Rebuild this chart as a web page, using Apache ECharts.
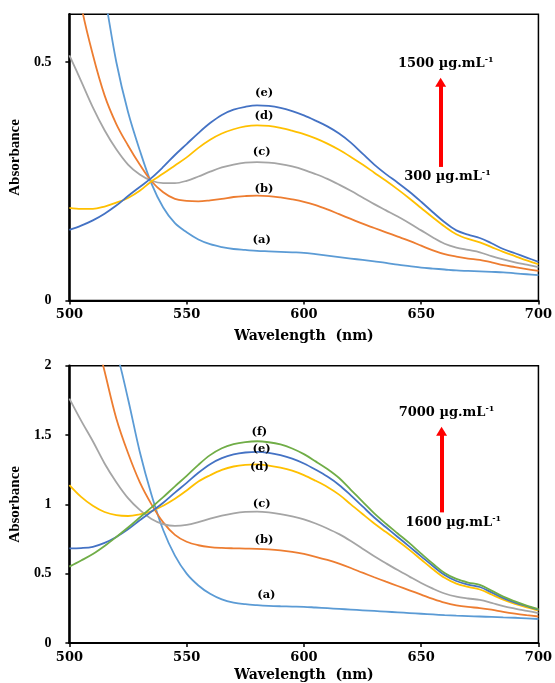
<!DOCTYPE html>
<html>
<head>
<meta charset="utf-8">
<script src="https://cdn.jsdelivr.net/npm/echarts@6/dist/echarts.min.js"></script>
<style>html,body{margin:0;padding:0;background:#fff;}#c{width:555px;height:683px;}</style>
</head>
<body>
<div id="c"></div>
<script>
// ---------- DATA ----------
const wavelengths = [500,505,510,515,520,525,530,535,540,545,550,555,560,565,570,575,580,585,590,595,600,605,610,615,620,625,630,635,640,645,650,655,660,665,670,675,680,685,690,695,700];

// Top panel (300 - 1500 µg/mL)
const topA = [1.0,0.88,0.76,0.64,0.5,0.395,0.315,0.245,0.195,0.162,0.143,0.128,0.118,0.112,0.108,0.106,0.104,0.103,0.102,0.101,0.1,0.097,0.094,0.091,0.088,0.085,0.082,0.079,0.075,0.072,0.069,0.067,0.065,0.063,0.062,0.061,0.06,0.059,0.057,0.055,0.053];
const topB = [0.78,0.62,0.515,0.43,0.37,0.325,0.285,0.25,0.227,0.213,0.209,0.208,0.21,0.213,0.217,0.219,0.22,0.219,0.216,0.212,0.207,0.2,0.191,0.181,0.171,0.161,0.152,0.143,0.134,0.125,0.115,0.105,0.097,0.092,0.088,0.085,0.08,0.074,0.07,0.066,0.062];
const topC = [0.514,0.46,0.405,0.357,0.317,0.285,0.264,0.251,0.246,0.246,0.251,0.26,0.27,0.279,0.285,0.289,0.29,0.289,0.286,0.281,0.274,0.265,0.255,0.243,0.23,0.216,0.202,0.189,0.176,0.162,0.147,0.132,0.119,0.111,0.106,0.101,0.093,0.086,0.08,0.075,0.07];
const topD = [0.194,0.192,0.192,0.197,0.205,0.215,0.23,0.25,0.266,0.283,0.3,0.32,0.337,0.35,0.359,0.365,0.367,0.366,0.362,0.356,0.349,0.34,0.329,0.316,0.301,0.285,0.268,0.251,0.233,0.214,0.194,0.174,0.155,0.139,0.129,0.122,0.112,0.102,0.093,0.084,0.076];
const topE = [0.148,0.157,0.168,0.182,0.199,0.219,0.238,0.257,0.28,0.305,0.328,0.351,0.372,0.389,0.4,0.406,0.409,0.408,0.404,0.397,0.388,0.377,0.365,0.35,0.331,0.308,0.285,0.265,0.247,0.228,0.207,0.185,0.164,0.147,0.138,0.131,0.12,0.108,0.099,0.09,0.081];

// Bottom panel (1600 - 7000 µg/mL)
const botA = [3.5,3.0,2.6,2.3,2.1,1.76,1.38,1.07,0.815,0.63,0.5,0.415,0.355,0.315,0.292,0.28,0.273,0.268,0.265,0.263,0.261,0.256,0.251,0.246,0.241,0.236,0.231,0.226,0.221,0.216,0.211,0.206,0.201,0.197,0.194,0.191,0.188,0.185,0.182,0.178,0.173];
const botB = [3.2,2.7,2.3,1.96,1.62,1.37,1.16,1.0,0.87,0.78,0.73,0.705,0.692,0.686,0.683,0.681,0.679,0.675,0.668,0.657,0.642,0.622,0.599,0.572,0.541,0.507,0.474,0.442,0.411,0.38,0.349,0.318,0.291,0.272,0.26,0.252,0.24,0.225,0.212,0.201,0.191];
const botC = [1.763,1.604,1.455,1.295,1.16,1.045,0.96,0.895,0.858,0.845,0.852,0.872,0.897,0.918,0.935,0.945,0.947,0.942,0.93,0.913,0.892,0.862,0.826,0.785,0.735,0.68,0.625,0.575,0.526,0.479,0.433,0.392,0.357,0.334,0.321,0.311,0.29,0.266,0.248,0.232,0.216];
const botD = [1.139,1.054,0.99,0.945,0.922,0.916,0.928,0.95,0.99,1.04,1.1,1.165,1.21,1.248,1.273,1.285,1.288,1.28,1.265,1.243,1.211,1.17,1.125,1.07,1.0,0.93,0.862,0.8,0.738,0.672,0.602,0.532,0.47,0.428,0.405,0.386,0.35,0.312,0.282,0.257,0.235];
const botE = [0.683,0.685,0.694,0.722,0.765,0.82,0.885,0.948,1.012,1.085,1.155,1.228,1.29,1.333,1.36,1.374,1.379,1.372,1.355,1.33,1.295,1.25,1.2,1.14,1.065,0.985,0.905,0.835,0.765,0.695,0.625,0.555,0.49,0.447,0.421,0.404,0.365,0.324,0.291,0.265,0.24];
const botF = [0.551,0.595,0.642,0.7,0.765,0.833,0.905,0.978,1.052,1.13,1.205,1.285,1.355,1.405,1.434,1.449,1.455,1.448,1.432,1.403,1.362,1.31,1.255,1.19,1.105,1.02,0.935,0.86,0.79,0.72,0.645,0.572,0.505,0.462,0.436,0.419,0.378,0.334,0.3,0.27,0.245];

const curveNames = ['(a)','(b)','(c)','(d)','(e)','(f)'];
const xTicks = [500,550,600,650,700];
const topLabelText = ['1500 µg.mL', '300 µg.mL'];
const botLabelText = ['7000 µg.mL', '1600 µg.mL'];
const supText = '-1';

// label anchors (data coords)
const topCurveLabelPos = [[582,0.127],[583,0.233],[582,0.312],[583,0.386],[583,0.434]];
const botCurveLabelPos = [[584,0.347],[583,0.743],[582,1.002],[581,1.27],[582,1.398],[581,1.522]];
const topNotePos = [[660.5,0.497],[661.2,0.259]];
const botNotePos = [[660.8,1.659],[663.7,0.868]];
const topArrow = [[658.3,0.28],[658.3,0.4575]];
const botArrow = [[658.7,0.942],[658.7,1.527]];

// ---------- STYLE ----------
const colors = ['#5B9BD5','#ED7D31','#A5A5A5','#FFC000','#4472C4','#70AD47'];
const SERIF = '"Liberation Serif","Times New Roman",serif';
const WIDE = '"DejaVu Serif","Liberation Serif",serif';

function pairs(vals){ return wavelengths.map((w,i)=>[w, vals[i]]); }

function curveSeries(vals, idx, gi, labelPos){
  return {
    type:'line', xAxisIndex:gi, yAxisIndex:gi, data:pairs(vals),
    smooth:0.35, showSymbol:false, symbol:'none', clip:true,
    lineStyle:{color:colors[idx], width:1.8}, itemStyle:{color:colors[idx]},
    markPoint:{
      symbol:'circle', symbolSize:0, silent:true, animation:false,
      label:{show:true, position:'inside', formatter:curveNames[idx], fontFamily:WIDE, fontWeight:'bold', fontSize:11.5, color:'#000'},
      data:[{coord:labelPos[idx]}]
    }
  };
}

function noteSeries(gi, notes, notePos, arrow){
  return {
    type:'line', xAxisIndex:gi, yAxisIndex:gi, data:[], silent:true,
    markPoint:{
      symbol:'circle', symbolSize:0, silent:true, animation:false,
      label:{show:true, position:'inside', fontFamily:WIDE, fontWeight:'bold', fontSize:13, color:'#000',
        formatter: p => '{m|' + p.name + '}{s|' + supText + '}',
        rich:{ m:{fontFamily:WIDE, fontWeight:'bold', fontSize:13, color:'#000', lineHeight:16},
               s:{fontFamily:WIDE, fontWeight:'bold', fontSize:8, color:'#000', verticalAlign:'top', lineHeight:16} } },
      data: notes.map((t,i)=>({name:t, coord:notePos[i]}))
    },
    markLine:{
      silent:true, animation:false, symbol:['none','triangle'], symbolSize:[11,9],
      label:{show:false},
      lineStyle:{color:'#FF0000', width:4, type:'solid'},
      data:[[{coord:arrow[0]},{coord:arrow[1]}]]
    }
  };
}

function xAxisCfg(gi, gap){
  return {
    gridIndex:gi, type:'value', min:500, max:700, interval:50,
    name:'Wavelength  (nm)', nameLocation:'middle', nameGap:gap,
    nameTextStyle:{fontFamily:WIDE, fontWeight:'bold', fontSize:14, color:'#000'},
    axisLine:{show:true, onZero:false, lineStyle:{color:'#000', width:2}},
    axisTick:{show:true, length:4, lineStyle:{color:'#000', width:1.5}},
    axisLabel:{fontFamily:WIDE, fontWeight:'bold', fontSize:13, color:'#000', margin:8,
      formatter: v => xTicks.indexOf(v) >= 0 ? String(v) : ''},
    splitLine:{show:false}
  };
}
function yAxisCfg(gi, max){
  return {
    gridIndex:gi, type:'value', min:0, max:max, interval:0.5,
    name:'Absorbance', nameLocation:'middle', nameGap:45, nameRotate:90,
    nameTextStyle:{fontFamily:SERIF, fontWeight:'bold', fontSize:15, color:'#000'},
    axisLine:{show:true, onZero:false, lineStyle:{color:'#000', width:2.5}},
    axisTick:{show:true, length:4, lineStyle:{color:'#000', width:1.5}},
    axisLabel:{fontFamily:SERIF, fontWeight:'bold', fontSize:14, color:'#000', margin:18, showMaxLabel: max===2},
    splitLine:{show:false}
  };
}

const topVals = [topA, topB, topC, topD, topE];
const botVals = [botA, botB, botC, botD, botE, botF];

const series = [];
topVals.forEach((v,i)=>series.push(curveSeries(v,i,0,topCurveLabelPos)));
botVals.forEach((v,i)=>series.push(curveSeries(v,i,1,botCurveLabelPos)));
series.push(noteSeries(0, topLabelText, topNotePos, topArrow));
series.push(noteSeries(1, botLabelText, botNotePos, botArrow));

const option = {
  animation:false,
  backgroundColor:'#ffffff',
  grid:[
    {left:68.5, top:14.3, width:473, height:286.2, show:true, borderColor:'#000', borderWidth:1.5, backgroundColor:'transparent'},
    {left:68.5, top:365.7, width:473.5, height:277.6, show:true, borderColor:'#000', borderWidth:1.5, backgroundColor:'transparent'}
  ],
  xAxis:[xAxisCfg(0, 29), xAxisCfg(1, 25)],
  yAxis:[yAxisCfg(0, 0.6), yAxisCfg(1, 2)],
  series: series
};

const chart = echarts.init(document.getElementById('c'), null, {renderer:'canvas'});
chart.setOption(option);
</script>
</body>
</html>
